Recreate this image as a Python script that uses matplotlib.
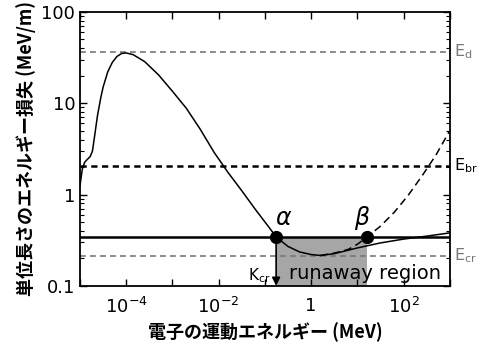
import numpy as np
import matplotlib
matplotlib.use("Agg")
from matplotlib import pyplot as plt
from matplotlib.ticker import FixedLocator, FixedFormatter, LogLocator, NullFormatter

plt.rcParams['font.family'] = ['Noto Sans CJK JP', 'DejaVu Sans']

# energy loss curve (log10 of MeV, MeV/m)
loss_logE = [-5.0, -4.95, -4.9, -4.85, -4.78, -4.73, -4.68, -4.62, -4.55, -4.5,
             -4.4, -4.3, -4.2, -4.1, -4.0, -3.85, -3.6, -3.3, -3.0, -2.7,
             -2.4, -2.1, -1.8, -1.5, -1.2, -0.9, -0.756, -0.5, -0.25, 0.0,
             0.2, 0.5, 1.0, 1.5, 2.0, 2.5, 3.0]
loss_val = [1.25, 1.9, 2.25, 2.4, 2.6, 3.0, 4.5, 7.4, 11.5, 15,
            22, 28, 32.5, 35, 35.5, 34, 28.5, 20.4, 13.5, 8.8,
            5.2, 2.9, 1.75, 1.1, 0.68, 0.43, 0.343, 0.27, 0.235, 0.22,
            0.215, 0.225, 0.26, 0.295, 0.325, 0.35, 0.38]

# with bremsstrahlung (dashed)
brems_logE = [0.2, 0.5, 0.8, 1.0, 1.21, 1.5, 1.8, 2.1, 2.4, 2.7, 3.0]
brems_val = [0.215, 0.228, 0.25, 0.285, 0.343, 0.45, 0.64, 0.98, 1.6, 2.7, 5.0]

E_d = 36.5
E_br = 2.05
E_cr = 0.213
E_field = 0.343
alpha_E = 0.175
beta_E = 16.0

fig = plt.figure(figsize=(4.79, 3.49), dpi=100)
ax = fig.add_axes([0.167, 0.181, 0.772, 0.785])

E1 = 10 ** np.array(loss_logE)
E2 = 10 ** np.array(brems_logE)

ax.fill_between([alpha_E, beta_E], 0.1, E_field, color='#a6a6a6', lw=0, zorder=1)

ax.axhline(E_d, color='#777777', ls=(0, (3.5, 2.5)), lw=1.2, zorder=2)
ax.axhline(E_br, color='black', ls=(0, (2.5, 1.8)), lw=1.8, zorder=2)
ax.axhline(E_cr, color='#777777', ls=(0, (3.5, 2.5)), lw=1.2, zorder=2)
ax.axhline(E_field, color='black', lw=1.8, zorder=3)

ax.plot(E1, loss_val, color='black', lw=1.1, zorder=4)
ax.plot(E2, brems_val, color='black', lw=1.1, ls=(0, (5, 3)), zorder=4)

ax.plot([alpha_E, beta_E], [E_field, E_field], 'o', color='black', ms=8.5, zorder=5)
ax.annotate('', xy=(alpha_E, 0.1), xytext=(alpha_E, E_field),
            arrowprops=dict(arrowstyle='-|>', color='black', lw=1.2,
                            mutation_scale=12, shrinkA=0, shrinkB=0), zorder=5)

ax.text(0.25, 0.55, r'$\alpha$', fontsize=17, ha='center', va='center',
        family='DejaVu Sans')
ax.text(13, 0.55, r'$\beta$', fontsize=17, ha='center', va='center',
        family='DejaVu Sans')
ax.text(0.13, 0.13, r'$\mathrm{K_{cr}}$', fontsize=11, ha='right', va='center',
        family='DejaVu Sans')
ax.text(15, 0.137, 'runaway region', fontsize=14, ha='center', va='center',
        family='DejaVu Sans')

for val, lab, col in [(E_d, r'$\mathrm{E_d}$', '#777777'),
                      (E_br, r'$\mathrm{E_{br}}$', 'black'),
                      (E_cr, r'$\mathrm{E_{cr}}$', '#777777')]:
    ax.text(1.012, val, lab, transform=ax.get_yaxis_transform(), fontsize=11.5,
            color=col, ha='left', va='center', family='DejaVu Sans')

ax.set_xscale('log')
ax.set_yscale('log')
ax.set_xlim(1e-5, 1e3)
ax.set_ylim(0.1, 100)

xt = [1e-5, 1e-4, 1e-3, 1e-2, 1e-1, 1, 1e1, 1e2, 1e3]
xl = ['', r'$10^{-4}$', '', r'$10^{-2}$', '', '1', '', r'$10^{2}$', '']
ax.xaxis.set_major_locator(FixedLocator(xt))
ax.xaxis.set_major_formatter(FixedFormatter(xl))
ax.xaxis.set_minor_locator(FixedLocator([]))
ax.yaxis.set_major_locator(FixedLocator([0.1, 1, 10, 100]))
ax.yaxis.set_major_formatter(FixedFormatter(['0.1', '1', '10', '100']))
ax.yaxis.set_minor_locator(LogLocator(base=10, subs=np.arange(2, 10)))
ax.yaxis.set_minor_formatter(NullFormatter())

ax.tick_params(which='both', direction='in', top=True, right=True, labelsize=13)
ax.tick_params(which='major', length=5, width=1)
ax.tick_params(which='minor', length=3, width=0.8)
ax.tick_params(axis='x', pad=8)
for lab in ax.get_xticklabels() + ax.get_yticklabels():
    lab.set_family('DejaVu Sans')
for s in ax.spines.values():
    s.set_linewidth(1.3)

ax.set_xlabel('電子の運動エネルギー (MeV)', fontsize=13, fontweight='bold', labelpad=4)
ax.set_ylabel('単位長さのエネルギー損失 (MeV/m)', fontsize=13, fontweight='bold', labelpad=4)

fig.savefig('out.png', dpi=100)
